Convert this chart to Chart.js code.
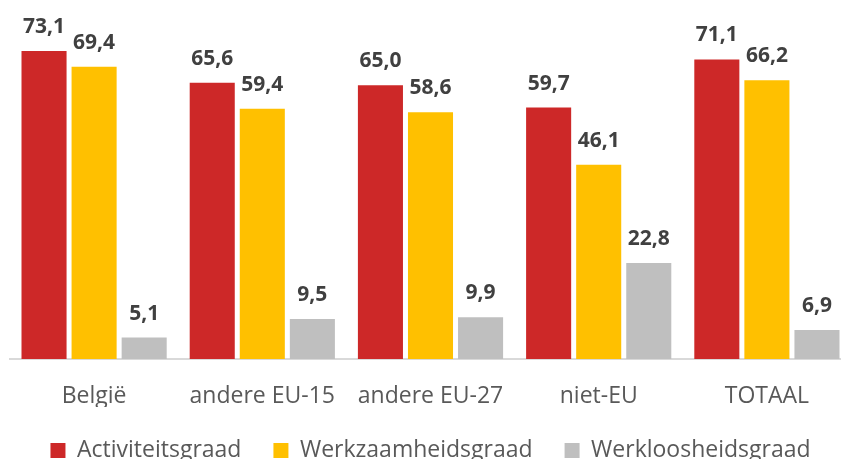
<!DOCTYPE html>
<html lang="nl">
<head>
    <meta charset="UTF-8">
    <title>Activiteitsgraad per herkomst</title>
    <script src="https://cdn.jsdelivr.net/npm/chart.js@4"></script>
    <style>
        body { margin: 0; overflow: hidden; background: #fff; }
        #wrap { width: 851px; height: 472px; }
    </style>
</head>
<body>
    <div id="wrap"><canvas id="myChart"></canvas></div>
    <script>
        const categories = ['België', 'andere EU-15', 'andere EU-27', 'niet-EU', 'TOTAAL']
        const activiteit = [73.1, 65.6, 65.0, 59.7, 71.1]
        const werkzaamheid = [69.4, 59.4, 58.6, 46.1, 66.2]
        const werkloosheid = [5.1, 9.5, 9.9, 22.8, 6.9]

        const FONT = '"Open Sans", sans-serif'

        // labels boven de balken, met komma als decimaalteken
        const valueLabels = {
            id: 'valueLabels',
            afterDatasetsDraw(chart) {
                const ctx = chart.ctx
                ctx.save()
                ctx.font = 'bold 21px ' + FONT
                ctx.fillStyle = '#404040'
                ctx.textAlign = 'center'
                ctx.textBaseline = 'alphabetic'
                chart.data.datasets.forEach((ds, i) => {
                    chart.getDatasetMeta(i).data.forEach((bar, j) => {
                        ctx.fillText(ds.data[j].toFixed(1).replace('.', ','), bar.x, bar.y - 18)
                    })
                })
                ctx.restore()
            }
        }

        var ctx = document.getElementById('myChart').getContext('2d');
        window.chart = new Chart(ctx, {
            type: 'bar',
            data: {
                labels: categories,
                datasets: [{
                    label: 'Activiteitsgraad',
                    backgroundColor: '#CD2828',
                    data: activiteit
                }, {
                    label: 'Werkzaamheidsgraad',
                    backgroundColor: '#FFC000',
                    data: werkzaamheid
                }, {
                    label: 'Werkloosheidsgraad',
                    backgroundColor: '#BFBFBF',
                    data: werkloosheid
                }]
            },
            options: {
                responsive: true,
                maintainAspectRatio: false,
                animation: false,
                datasets: {
                    bar: { barPercentage: 0.9, categoryPercentage: 0.893 }
                },
                layout: { padding: { left: 10, right: 0, top: 22, bottom: 0 } },
                scales: {
                    x: {
                        grid: { display: false },
                        border: { color: '#d9d9d9', width: 2 },
                        ticks: { color: '#595959', font: { family: FONT, size: 23 }, padding: 16, maxRotation: 0 },
                        // vaste hoogte zodat de as op de juiste plek ligt
                        afterFit: (scale) => { scale.height = 48 }
                    },
                    y: { display: false, min: 0, max: 80 }
                },
                plugins: {
                    tooltip: { enabled: false },
                    legend: {
                        position: 'bottom',
                        labels: {
                            boxWidth: 15, boxHeight: 15, padding: 32,
                            color: '#595959',
                            font: { family: FONT, size: 23 }
                        }
                    }
                }
            },
            plugins: [valueLabels]
        });
    </script>
</body>
</html>
